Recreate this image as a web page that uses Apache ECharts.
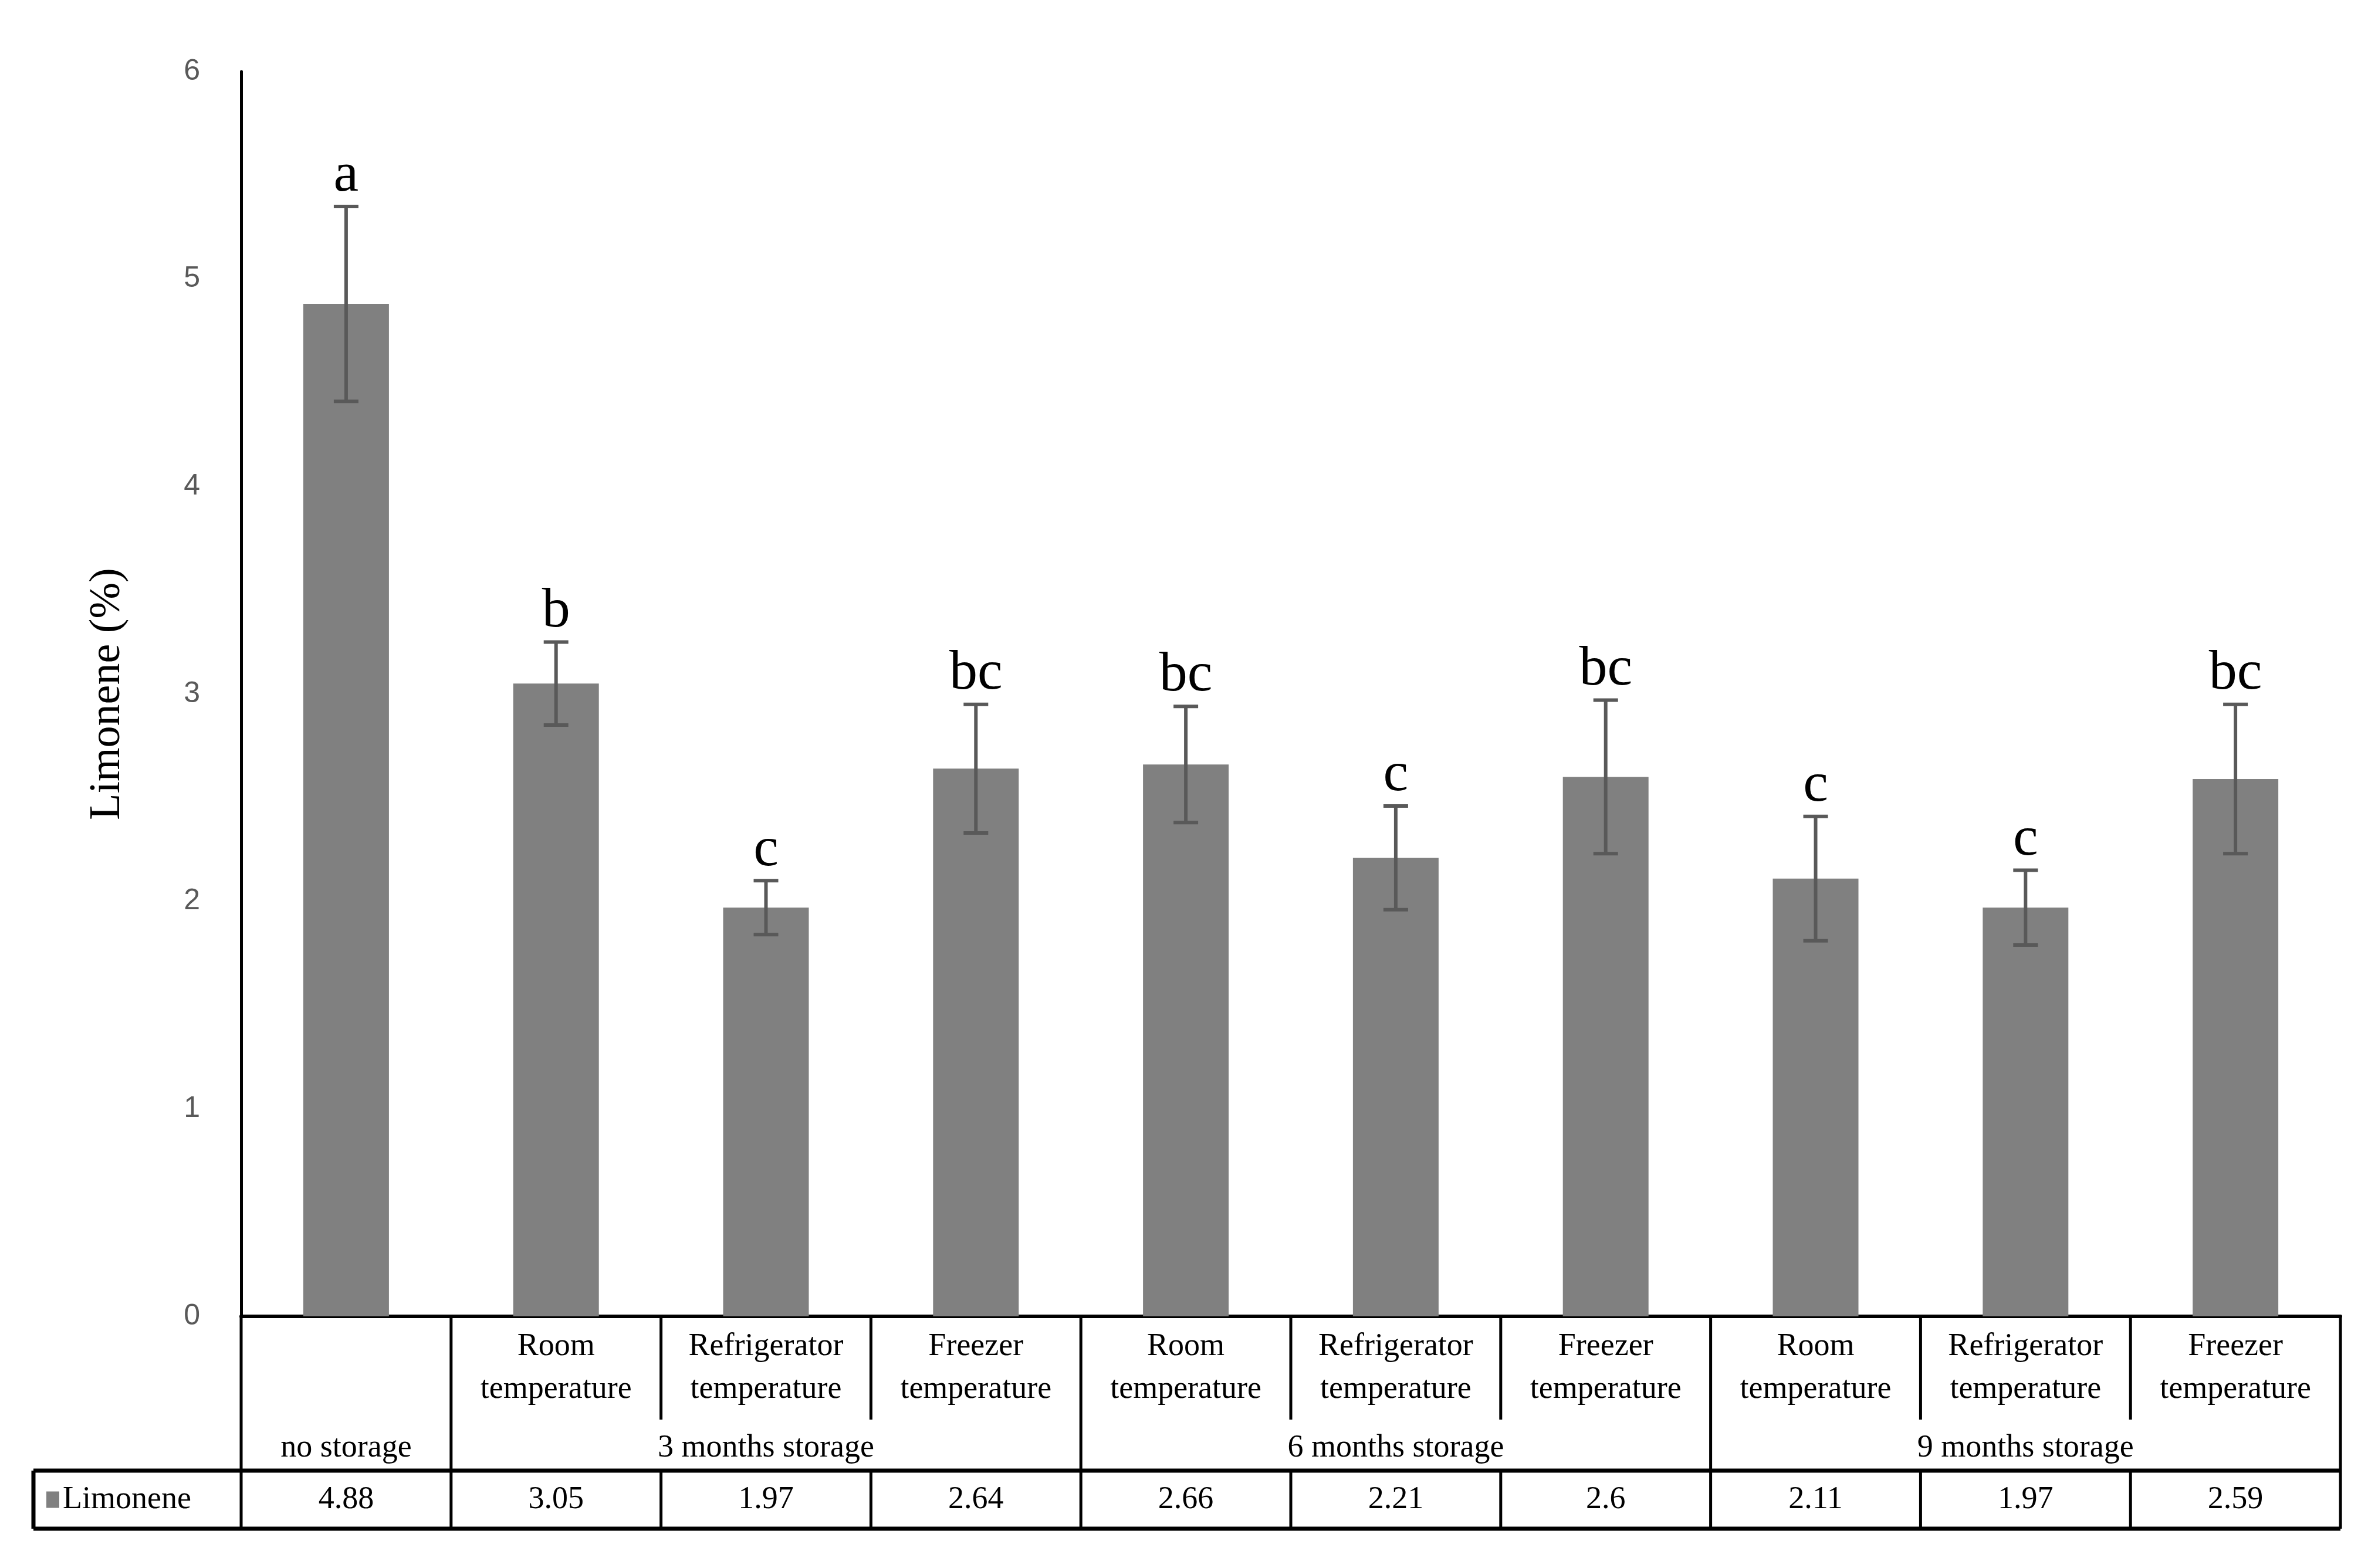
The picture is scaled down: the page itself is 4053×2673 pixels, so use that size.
<!DOCTYPE html>
<html><head><meta charset="utf-8">
<script src="https://cdn.jsdelivr.net/npm/echarts@6/dist/echarts.min.js"></script>
<style>html,body{margin:0;padding:0;background:#fff}#c{width:4053px;height:2673px}</style>
</head><body><div id="c"></div>
<script>
var conditions = ["", "Room\ntemperature", "Refrigerator\ntemperature", "Freezer\ntemperature",
  "Room\ntemperature", "Refrigerator\ntemperature", "Freezer\ntemperature",
  "Room\ntemperature", "Refrigerator\ntemperature", "Freezer\ntemperature"];
var groups = [["no storage", 0, 0], ["3 months storage", 1, 3], ["6 months storage", 4, 6], ["9 months storage", 7, 9]];
var limonene = [4.88, 3.05, 1.97, 2.64, 2.66, 2.21, 2.6, 2.11, 1.97, 2.59];
var errors = [0.47, 0.2, 0.13, 0.31, 0.28, 0.25, 0.37, 0.3, 0.18, 0.36];
var letters = ["a", "b", "c", "bc", "bc", "c", "bc", "c", "c", "bc"];
var yTicks = [0, 1, 2, 3, 4, 5, 6];

var serif = "Liberation Serif";
var chart = echarts.init(document.getElementById("c"));
var cats = conditions.map(function (c, i) { return "c" + i; });

chart.setOption({
  animation: false,
  grid: {left: 411, right: 64, top: 122, bottom: 429},
  xAxis: {type: "category", data: cats,
    axisLine: {lineStyle: {color: "#000", width: 6}},
    axisTick: {show: false}, axisLabel: {show: false}},
  yAxis: {type: "value", min: yTicks[0], max: yTicks[yTicks.length - 1], interval: 1,
    name: "Limonene (%)", nameLocation: "middle", nameGap: 190,
    nameTextStyle: {fontFamily: serif, fontSize: 74, color: "#000"},
    axisLine: {show: true, lineStyle: {color: "#000", width: 5}},
    axisTick: {show: false}, splitLine: {show: false},
    axisLabel: {fontFamily: "Liberation Sans", fontSize: 50, color: "#595959", margin: 70}},
  series: [
    {type: "bar", data: limonene, barWidth: 146, itemStyle: {color: "#808080"}},
    {type: "custom", data: limonene.map(function (v, i) { return [i, v, errors[i]]; }),
      z: 5,
      renderItem: function (params, api) {
        var x = api.value(0), v = api.value(1), e = api.value(2);
        var top = api.coord([x, v + e]), bot = api.coord([x, v - e]);
        var st = {stroke: "#595959", lineWidth: 6};
        return {type: "group", children: [
          {type: "line", shape: {x1: top[0], y1: top[1], x2: bot[0], y2: bot[1]}, style: st},
          {type: "line", shape: {x1: top[0] - 21, y1: top[1], x2: top[0] + 21, y2: top[1]}, style: st},
          {type: "line", shape: {x1: bot[0] - 21, y1: bot[1], x2: bot[0] + 21, y2: bot[1]}, style: st},
          {type: "text", style: {x: top[0], y: top[1] - 4, text: letters[params.dataIndex],
            font: "96px " + serif, fill: "#000", textAlign: "center", textVerticalAlign: "bottom"}}
        ]};
      }}
  ]
});

// table below the plot
function drawTable() {
  var c0 = chart.convertToPixel({xAxisIndex: 0}, 0);
  var c1 = chart.convertToPixel({xAxisIndex: 0}, 1);
  var step = c1 - c0;
  var edge = function (i) { return c0 - step / 2 + i * step; };
  var y0 = chart.convertToPixel({yAxisIndex: 0}, 0);
  var yMid = y0 + 176, yHead = y0 + 263, yEnd = y0 + 362, xLeg = 57;
  var els = [], lw = 5;
  function line(x1, y1, x2, y2, w) {
    els.push({type: "line", shape: {x1: x1, y1: y1, x2: x2, y2: y2}, style: {stroke: "#000", lineWidth: w || lw}});
  }
  function text(x, y, t, size) {
    els.push({type: "text", style: {x: x, y: y, text: t, font: size + "px " + serif, fill: "#000",
      textAlign: "center", textVerticalAlign: "middle", lineHeight: size * 1.35}});
  }
  line(edge(0), y0, edge(0), yEnd);
  line(edge(10), y0, edge(10), yEnd);
  line(xLeg, yHead, edge(10), yHead, 7);
  line(xLeg, yEnd, edge(10), yEnd, 7);
  line(xLeg, yHead, xLeg, yEnd, 7);
  for (var i = 1; i < 10; i++) {
    var isGroup = groups.some(function (g) { return g[1] === i; });
    line(edge(i), y0, edge(i), isGroup ? yEnd : yMid);
    if (!isGroup) line(edge(i), yHead, edge(i), yEnd);
  }
  for (var k = 0; k < 10; k++) {
    var cx = (edge(k) + edge(k + 1)) / 2;
    if (conditions[k]) text(cx, y0 + 88, conditions[k], 54);
    text(cx, (yHead + yEnd) / 2, String(limonene[k]), 54);
  }
  groups.forEach(function (g) {
    text((edge(g[1]) + edge(g[2] + 1)) / 2, y0 + 225, g[0], 54);
  });
  els.push({type: "rect", shape: {x: xLeg + 22, y: (yHead + yEnd) / 2 - 14, width: 22, height: 28}, style: {fill: "#808080"}});
  els.push({type: "text", style: {x: xLeg + 50, y: (yHead + yEnd) / 2, text: "Limonene", font: "54px " + serif,
    fill: "#000", textAlign: "left", textVerticalAlign: "middle"}});
  chart.setOption({graphic: els});
}
drawTable();
</script></body></html>
